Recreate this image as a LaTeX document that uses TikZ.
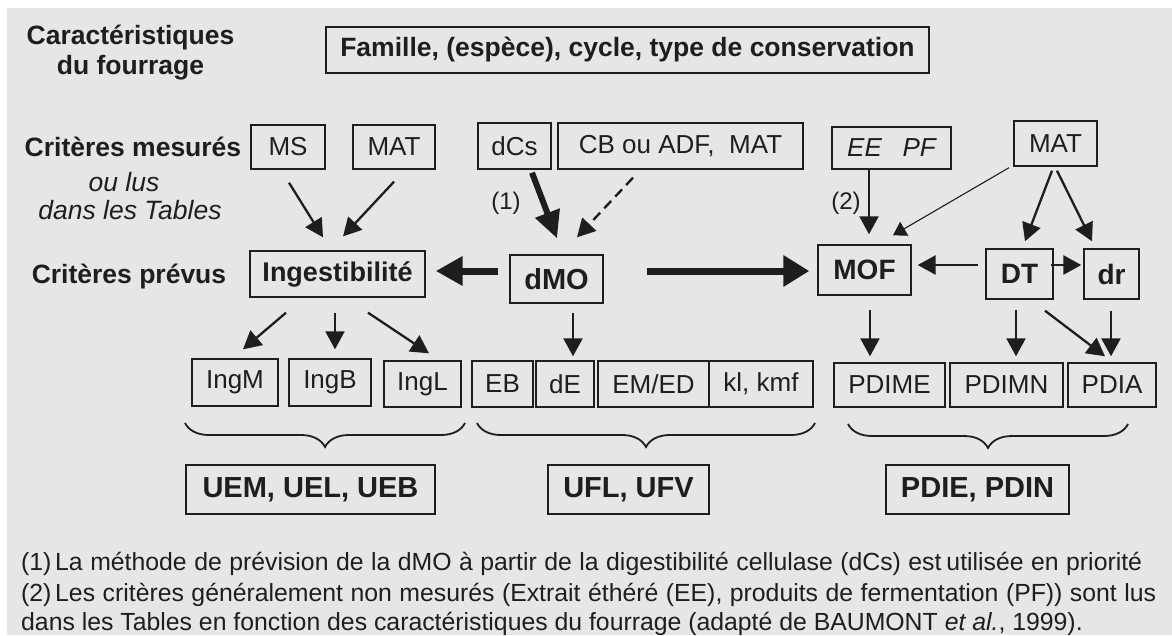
\documentclass[tikz,border=0pt]{standalone}
\usepackage{fontspec}
\setmainfont{Liberation Sans}
\usetikzlibrary{arrows.meta,calc,decorations.pathreplacing}
\definecolor{bg}{RGB}{230,230,230}
\definecolor{ink}{RGB}{30,30,30}
\tikzset{
 box/.style={draw=ink, line width=1.4pt, inner sep=0pt, text=ink, font=\fontsize{26}{29}\selectfont},
 bbox/.style={box, font=\fontsize{27}{30}\selectfont\bfseries},
 lab/.style={text=ink, inner sep=0pt, align=center},
 arr/.style={draw=ink, line width=2.3pt, -{Triangle[length=18pt,width=19pt]}},
 thinarr/.style={draw=ink, line width=1.1pt, -{Triangle[length=13pt,width=16pt]}},
 thickarr/.style={draw=ink, line width=7pt, -{Triangle[length=27pt,width=28pt]}},
 dasharr/.style={draw=ink, line width=2.4pt, dash pattern=on 10pt off 6pt, -{Triangle[length=18pt,width=19pt]}},
 brc/.style={draw=ink, line width=1.8pt, decorate, decoration={brace,mirror,amplitude=24pt}},
 foot/.style={text=ink, inner sep=0pt, anchor=base west, font=\fontsize{24.8}{28}\selectfont},
}
\newcommand{\g}{\hskip 0.2em plus 1fil\relax}
\begin{document}
\begin{tikzpicture}[x=1pt,y=-1pt]
\fill[white] (0,0) rectangle (1172,635);
\path[use as bounding box] (0,0) rectangle (1172,635);
\fill[bg] (7,8) rectangle (1172,635);

% left labels
\node[lab, font=\fontsize{26.5}{30}\selectfont\bfseries] (lcar) at (130.5,53) {Caractéristiques\\du fourrage};
\node[lab, font=\fontsize{26.5}{30}\selectfont\bfseries] (lmes) at (133,147) {Critères mesurés};
\node[lab, font=\fontsize{26.5}{30}\selectfont\itshape] (lou) at (124,182) {ou lus};
\node[lab, font=\fontsize{26.5}{30}\selectfont\itshape] (ldans) at (130,210) {dans les Tables};
\node[lab, font=\fontsize{26.5}{30}\selectfont\bfseries] (lprev) at (129,277) {Critères prévus};

% top box
\node[bbox, font=\fontsize{26.5}{30}\selectfont\bfseries, minimum width=603pt, minimum height=46pt] (top) at (627.5,50) {Famille, (espèce), cycle, type de conservation};

% measured criteria
\node[box, minimum width=74pt, minimum height=44pt] (MS) at (288,147) {MS};
\node[box, minimum width=82pt, minimum height=44pt] (MATa) at (394,147) {MAT};
\node[box, minimum width=73pt, minimum height=46pt] (dCs) at (514.5,146) {dCs};
\node[box, minimum width=245pt, minimum height=46pt] (CB) at (680.5,146) {CB ou ADF,~~MAT};
\node[box, minimum width=119pt, minimum height=42pt] (EEPF) at (891.5,148) {\itshape EE\hspace{0.8em}PF};
\node[box, minimum width=83pt, minimum height=45pt] (MATb) at (1055.5,143.5) {MAT};

% predicted criteria
\node[bbox, font=\fontsize{27}{30}\selectfont\bfseries, minimum width=175pt, minimum height=46pt] (Ing) at (337.5,274) {Ingestibilité};
\node[bbox, font=\fontsize{29}{32}\selectfont\bfseries, minimum width=93pt, minimum height=48pt] (dMO) at (556.5,279) {dMO};
\node[bbox, font=\fontsize{28}{32}\selectfont\bfseries, minimum width=93pt, minimum height=50pt] (MOF) at (864.5,270) {MOF};
\node[bbox, font=\fontsize{28}{32}\selectfont\bfseries, minimum width=67pt, minimum height=50pt] (DT) at (1019.5,274) {DT};
\node[bbox, font=\fontsize{28}{32}\selectfont\bfseries, minimum width=55pt, minimum height=50pt] (dr) at (1111.5,274) {dr};

% third row
\node[box, minimum width=86pt, minimum height=47pt] (IngM) at (235,382.5) {IngM};
\node[box, minimum width=82pt, minimum height=47pt] (IngB) at (330,382.5) {IngB};
\node[box, minimum width=77pt, minimum height=46pt] (IngL) at (422.5,384) {IngL};
\node[box, minimum width=61pt, minimum height=46pt] (EB) at (502.5,384) {EB};
\node[box, minimum width=58pt, minimum height=46pt] (dE) at (565,384) {dE};
\node[box, minimum width=111pt, minimum height=46pt] (EMED) at (653.5,384) {EM/ED};
\node[box, minimum width=104pt, minimum height=46pt] (kl) at (761,384) {kl, kmf};
\node[box, minimum width=111pt, minimum height=44pt] (PDIME) at (889.5,385) {PDIME};
\node[box, minimum width=113pt, minimum height=44pt] (PDIMN) at (1006.5,385) {PDIMN};
\node[box, minimum width=88pt, minimum height=44pt] (PDIA) at (1112,385) {PDIA};

% units
\node[bbox, font=\fontsize{29}{32}\selectfont\bfseries, minimum width=249pt, minimum height=49pt] (UEM) at (310.5,489.5) {UEM, UEL, UEB};
\node[bbox, font=\fontsize{29}{32}\selectfont\bfseries, minimum width=161pt, minimum height=49pt] (UFL) at (628.5,489.5) {UFL, UFV};
\node[bbox, font=\fontsize{29}{32}\selectfont\bfseries, minimum width=183pt, minimum height=49pt] (PDIE) at (977.5,489.5) {PDIE, PDIN};

% braces
\coordinate (b1l) at (185,423); \coordinate (b1r) at (465,423);
\coordinate (b2l) at (477,423); \coordinate (b2r) at (815,423);
\coordinate (b3l) at (848,424); \coordinate (b3r) at (1128,424);
\draw[brc] (b1l) -- (b1r);
\draw[brc] (b2l) -- (b2r);
\draw[brc] (b3l) -- (b3r);

% arrow labels
\node[lab, font=\fontsize{24}{28}\selectfont] (n1) at (506,203) {(1)};
\node[lab, font=\fontsize{24}{28}\selectfont] (n2) at (846,203) {(2)};

% arrows
\draw[arr] ($(MS.south)+(1,13)$) -- ($(Ing.north)+(-14.5,-13)$);
\draw[arr] ($(MATa.south)+(0,12)$) -- ($(Ing.north)+(5.5,-14)$);
\draw[thickarr, line width=6pt, -{Triangle[length=27pt,width=25pt]}] ($(dCs.south)+(17.5,3)$) -- ($(dMO.north)+(0.5,-16)$);
\draw[dasharr] ($(CB.south)+(-47.5,8)$) -- ($(dMO.north)+(20.5,-17)$);
\draw[thickarr] ($(dMO.west)+(-11,-8)$) -- ($(Ing.east)+(10,-3)$);
\draw[thickarr, -{Triangle[length=26pt,width=30pt]}] ($(dMO.east)+(43,-8)$) -- ($(MOF.west)+(-8,1)$);
\draw[arr] ($(EEPF.south)+(-22.5,0)$) -- ($(MOF.north)+(4.5,-10)$);
\draw[thinarr] ($(MATb.south)+(-46.5,1)$) -- ($(MOF.north)+(28.5,-9)$);
\draw[arr] ($(MATb.south)+(-3.5,4)$) -- ($(DT.north)+(5.5,-7)$);
\draw[arr] ($(MATb.south)+(1.5,4)$) -- ($(dr.north)+(-19.5,-7)$);
\draw[arr, line width=2.8pt] ($(DT.west)+(-7,-9)$) -- ($(MOF.east)+(6,-5)$);
\draw[arr, line width=2.8pt] ($(DT.east)+(-3,-9)$) -- ($(dr.west)+(-2,-9)$);
\draw[arr] ($(Ing.south)+(-51.5,15)$) -- ($(IngM.north)+(8,-9)$);
\draw[arr] ($(Ing.south)+(-2.5,15)$) -- ($(IngB.north)+(5,-9)$);
\draw[arr] ($(Ing.south)+(30.5,15)$) -- ($(IngL.north)+(6.5,-7)$);
\draw[arr] ($(dMO.south)+(16.5,9)$) -- ($(dE.north)+(8,-4)$);
\draw[arr] ($(MOF.south)+(5.5,14)$) -- ($(PDIME.north)+(-19.5,-6)$);
\draw[arr] ($(DT.south)+(-3.5,10)$) -- ($(PDIMN.north)+(9.5,-6)$);
\draw[arr] ($(DT.south)+(25.5,11)$) -- ($(PDIA.north)+(-7,-6)$);
\draw[arr] ($(dr.south)+(-0.5,11)$) -- ($(PDIA.north)+(-1,-6)$);

% footnotes
\node[foot] (fn1) at (21,570) {\hbox to 1121pt{(1)\hspace{0.15em}La\g méthode\g de\g prévision\g de\g la\g dMO\g à\g partir\g de\g la\g digestibilité\g cellulase\g (dCs)\g est\hspace{0.2em}utilisée\g en\g priorité}};
\node[foot] (fn2) at (21,601) {\hbox to 1135pt{(2)\hspace{0.15em}Les\g critères\g généralement\g non\g mesurés\g (Extrait\g éthéré\g (EE),\g produits\g de\g fermentation\g (PF))\g sont\g lus}};
\node[foot] (fn3) at (21,630) {dans les Tables en fonction des caractéristiques du fourrage (adapté de BAUMONT \textit{et al.}, 1999).};
\end{tikzpicture}
\end{document}
